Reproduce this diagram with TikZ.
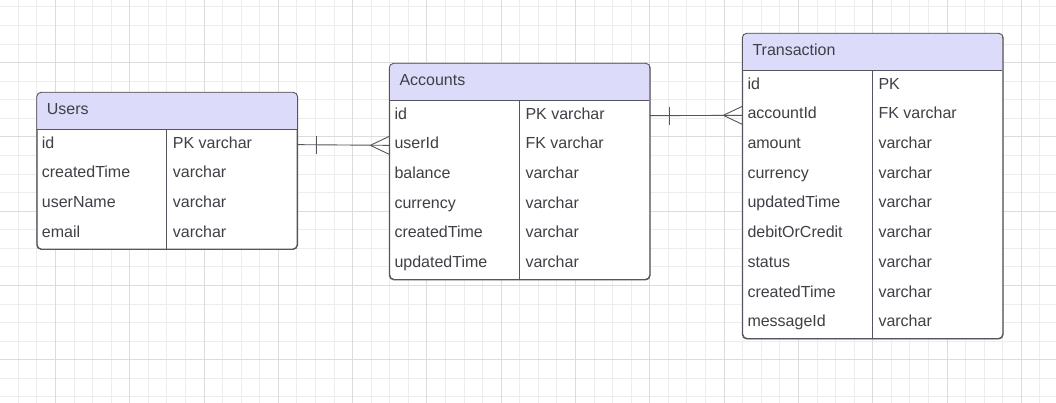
\documentclass[tikz,border=0pt]{standalone}
\usepackage{fontspec}
\setmainfont{Liberation Sans}
\usetikzlibrary{calc}
\definecolor{gridminor}{HTML}{EDEDED}
\definecolor{gridmajor}{HTML}{DCDCDC}
\definecolor{hdrfill}{HTML}{DCDCFA}
\definecolor{edge}{HTML}{55555F}
\definecolor{txt}{HTML}{3F3F46}
\tikzset{
  tbl/.style={draw=edge, line width=0.9pt, fill=white, rounded corners=4.5pt, inner sep=0pt, minimum width=260pt, anchor=north west},
  cell/.style={text=txt, inner sep=0pt, anchor=west, text height=10.5pt, text depth=3.5pt, font=\fontsize{16}{19}\selectfont},
  ttl/.style={text=txt, inner sep=0pt, anchor=west, text height=11pt, text depth=3pt, font=\fontsize{16}{19}\selectfont},
  conn/.style={draw=edge, line width=0.9pt},
}
\newcommand{\ertable}[5]{%
  \pgfmathsetmacro{\tblh}{37.5+#5*29.7}
  \node[tbl, minimum height=\tblh pt] (#1) at (#2,#3) {};
  \begin{scope}
    \clip[rounded corners=4.5pt] (#1.north west) rectangle (#1.south east);
    \fill[hdrfill] (#2,#3) rectangle ({#2+260},{#3+37.5});
  \end{scope}
  \draw[edge, line width=0.9pt] (#2,{#3+37.5}) -- ({#2+260},{#3+37.5});
  \draw[edge, line width=0.9pt] ({#2+130},{#3+37.5}) -- ({#2+130},{#3+\tblh});
  \draw[edge, line width=0.9pt, rounded corners=4.5pt] (#1.north west) rectangle (#1.south east);
  \node[ttl] (#1-title) at ({#2+10},{#3+18.5}) {#4};
}
\newcommand{\errows}[4]{%
  \foreach \fa/\fb [count=\i] in {#4} {
    \node[cell] (#1-\i) at ({#2+5},{#3+37.5+(\i-0.5)*29.7}) {\fa};
    \node[cell] (#1-\i t) at ({#2+136},{#3+37.5+(\i-0.5)*29.7}) {\fb};
  }
}
\begin{document}
\begin{tikzpicture}[x=1pt,y=-1pt]
\useasboundingbox (0,0) rectangle (1056,403);
\fill[white] (0,0) rectangle (1056,403);
% grid
\foreach \k in {0,...,57} {
  \pgfmathsetmacro{\gx}{-0.4+\k*18.575}
  \draw[gridminor, line width=0.8pt] (\gx,0) -- (\gx,403);
}
\foreach \k in {0,...,22} {
  \pgfmathsetmacro{\gy}{6.8+\k*18.575}
  \draw[gridminor, line width=0.8pt] (0,\gy) -- (1056,\gy);
}
\foreach \k in {0,...,14} {
  \pgfmathsetmacro{\gx}{55.3+(\k-1)*74.3}
  \draw[gridmajor, line width=0.8pt] (\gx,0) -- (\gx,403);
}
\foreach \k in {0,...,5} {
  \pgfmathsetmacro{\gy}{62.5+(\k-1)*74.3}
  \draw[gridmajor, line width=0.8pt] (0,\gy) -- (1056,\gy);
}
% tables
\ertable{users}{36.7}{92.3}{Users}{4}
\errows{users}{36.7}{92.3}{id/PK varchar, createdTime/varchar, userName/varchar, email/varchar}
\ertable{accounts}{389.3}{63.3}{Accounts}{6}
\errows{accounts}{389.3}{63.3}{id/PK varchar, userId/FK varchar, balance/varchar, currency/varchar, createdTime/varchar, updatedTime/varchar}
\ertable{trans}{742.3}{33.3}{Transaction}{9}
\errows{trans}{742.3}{33.3}{id/PK, accountId/FK varchar, amount/varchar, currency/varchar, updatedTime/varchar, debitOrCredit/varchar, status/varchar, createdTime/varchar, messageId/varchar}
% connectors
\coordinate (c1a) at (users.east |- users-1);
\coordinate (c1b) at (accounts.west |- accounts-2);
\draw[conn] (c1a) -- (c1b);
\draw[conn] ($(c1a)+(19,-9)$) -- ($(c1a)+(19,9)$);
\draw[conn] ($(c1b)+(0,-9)$) -- ($(c1b)+(-19,0)$) -- ($(c1b)+(0,9)$);
\coordinate (c2a) at (accounts.east |- accounts-1);
\coordinate (c2b) at (trans.west |- trans-2);
\draw[conn] (c2a) -- (c2b);
\draw[conn] ($(c2a)+(19,-9)$) -- ($(c2a)+(19,9)$);
\draw[conn] ($(c2b)+(0,-9)$) -- ($(c2b)+(-19,0)$) -- ($(c2b)+(0,9)$);
\end{tikzpicture}
\end{document}
